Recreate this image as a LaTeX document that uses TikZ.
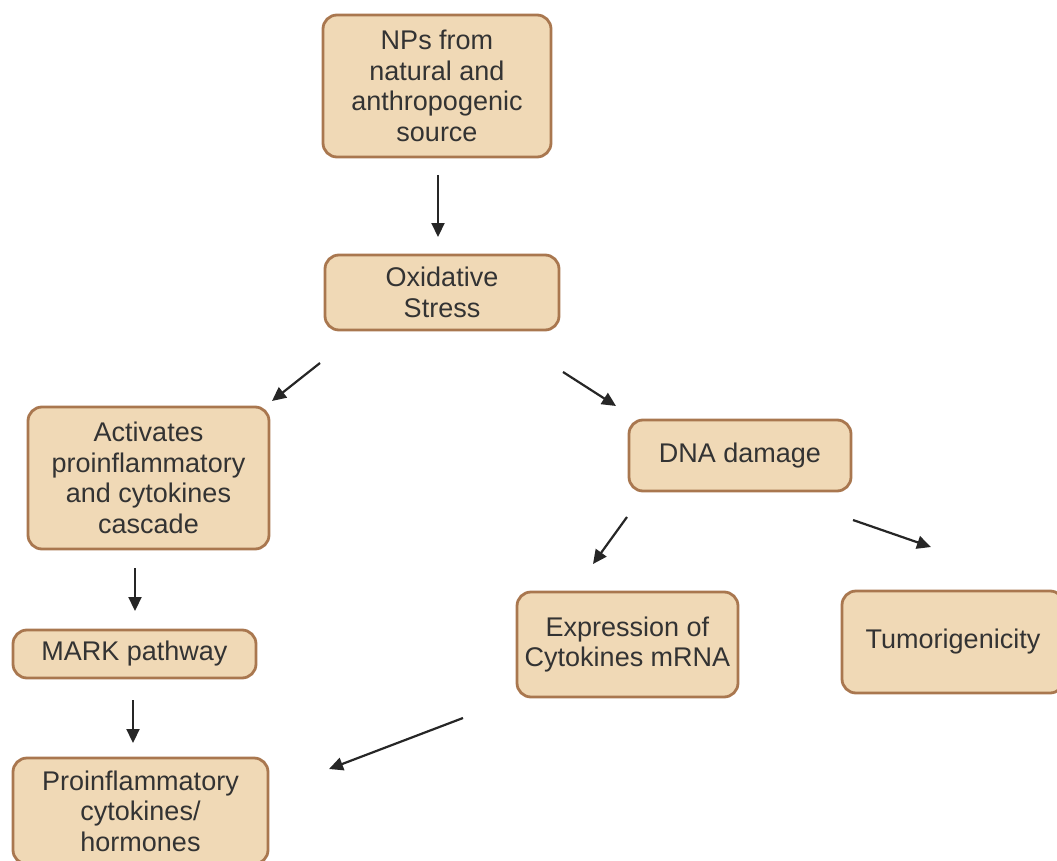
\documentclass[tikz,border=0pt]{standalone}
\usepackage{fontspec}
\setmainfont{Liberation Sans}
\usetikzlibrary{arrows.meta}
\definecolor{boxfill}{HTML}{F0D9B6}
\definecolor{boxline}{HTML}{A9774F}
\definecolor{txt}{HTML}{333333}
\begin{document}
\begin{tikzpicture}[x=1pt,y=-1pt,
  fbox/.style={draw=boxline,fill=boxfill,line width=2.8pt,rounded corners=14pt,
    inner sep=0pt,align=center,text=txt,font=\fontsize{27}{30.5}\selectfont},
  arr/.style={-{Triangle[length=14pt,width=13pt]},line width=2.2pt,draw=black!85}]
\useasboundingbox (0,0) rectangle (1057,861);
\node[fbox,minimum width=228pt,minimum height=142pt] (nps) at (437,86) {NPs from\\natural and\\anthropogenic\\source};
\node[fbox,minimum width=234pt,minimum height=75pt] (ox) at (442,292.5) {Oxidative\\Stress};
\node[fbox,minimum width=241pt,minimum height=142pt] (act) at (148.5,478) {Activates\\proinflammatory\\and cytokines\\cascade};
\node[fbox,minimum width=222pt,minimum height=71pt] (dna) at (740,455.5) {DNA damage};
\node[fbox,minimum width=243pt,minimum height=48pt] (mark) at (134.5,654) {MARK pathway};
\node[fbox,minimum width=221pt,minimum height=105pt] (expr) at (627.5,644.5) {Expression of\\Cytokines mRNA};
\node[fbox,minimum width=222pt,minimum height=102pt] (tum) at (953,642) {Tumorigenicity};
\node[fbox,minimum width=255pt,minimum height=106pt] (pro) at (140.5,811) {Proinflammatory\\cytokines/\\hormones};
\coordinate (a1s) at (438,175); \coordinate (a1e) at (438,237);
\coordinate (a2s) at (320,363); \coordinate (a2e) at (272,401);
\coordinate (a3s) at (563,372); \coordinate (a3e) at (616,406);
\coordinate (a4s) at (627,517); \coordinate (a4e) at (593,564);
\coordinate (a5s) at (853,520); \coordinate (a5e) at (931,547);
\coordinate (a6s) at (135,568); \coordinate (a6e) at (135,611);
\coordinate (a7s) at (133,700); \coordinate (a7e) at (133,743);
\coordinate (a8s) at (463,718); \coordinate (a8e) at (329,769);
\draw[arr] (a1s) -- (a1e);
\draw[arr] (a2s) -- (a2e);
\draw[arr] (a3s) -- (a3e);
\draw[arr] (a4s) -- (a4e);
\draw[arr] (a5s) -- (a5e);
\draw[arr] (a6s) -- (a6e);
\draw[arr] (a7s) -- (a7e);
\draw[arr] (a8s) -- (a8e);
\end{tikzpicture}
\end{document}
